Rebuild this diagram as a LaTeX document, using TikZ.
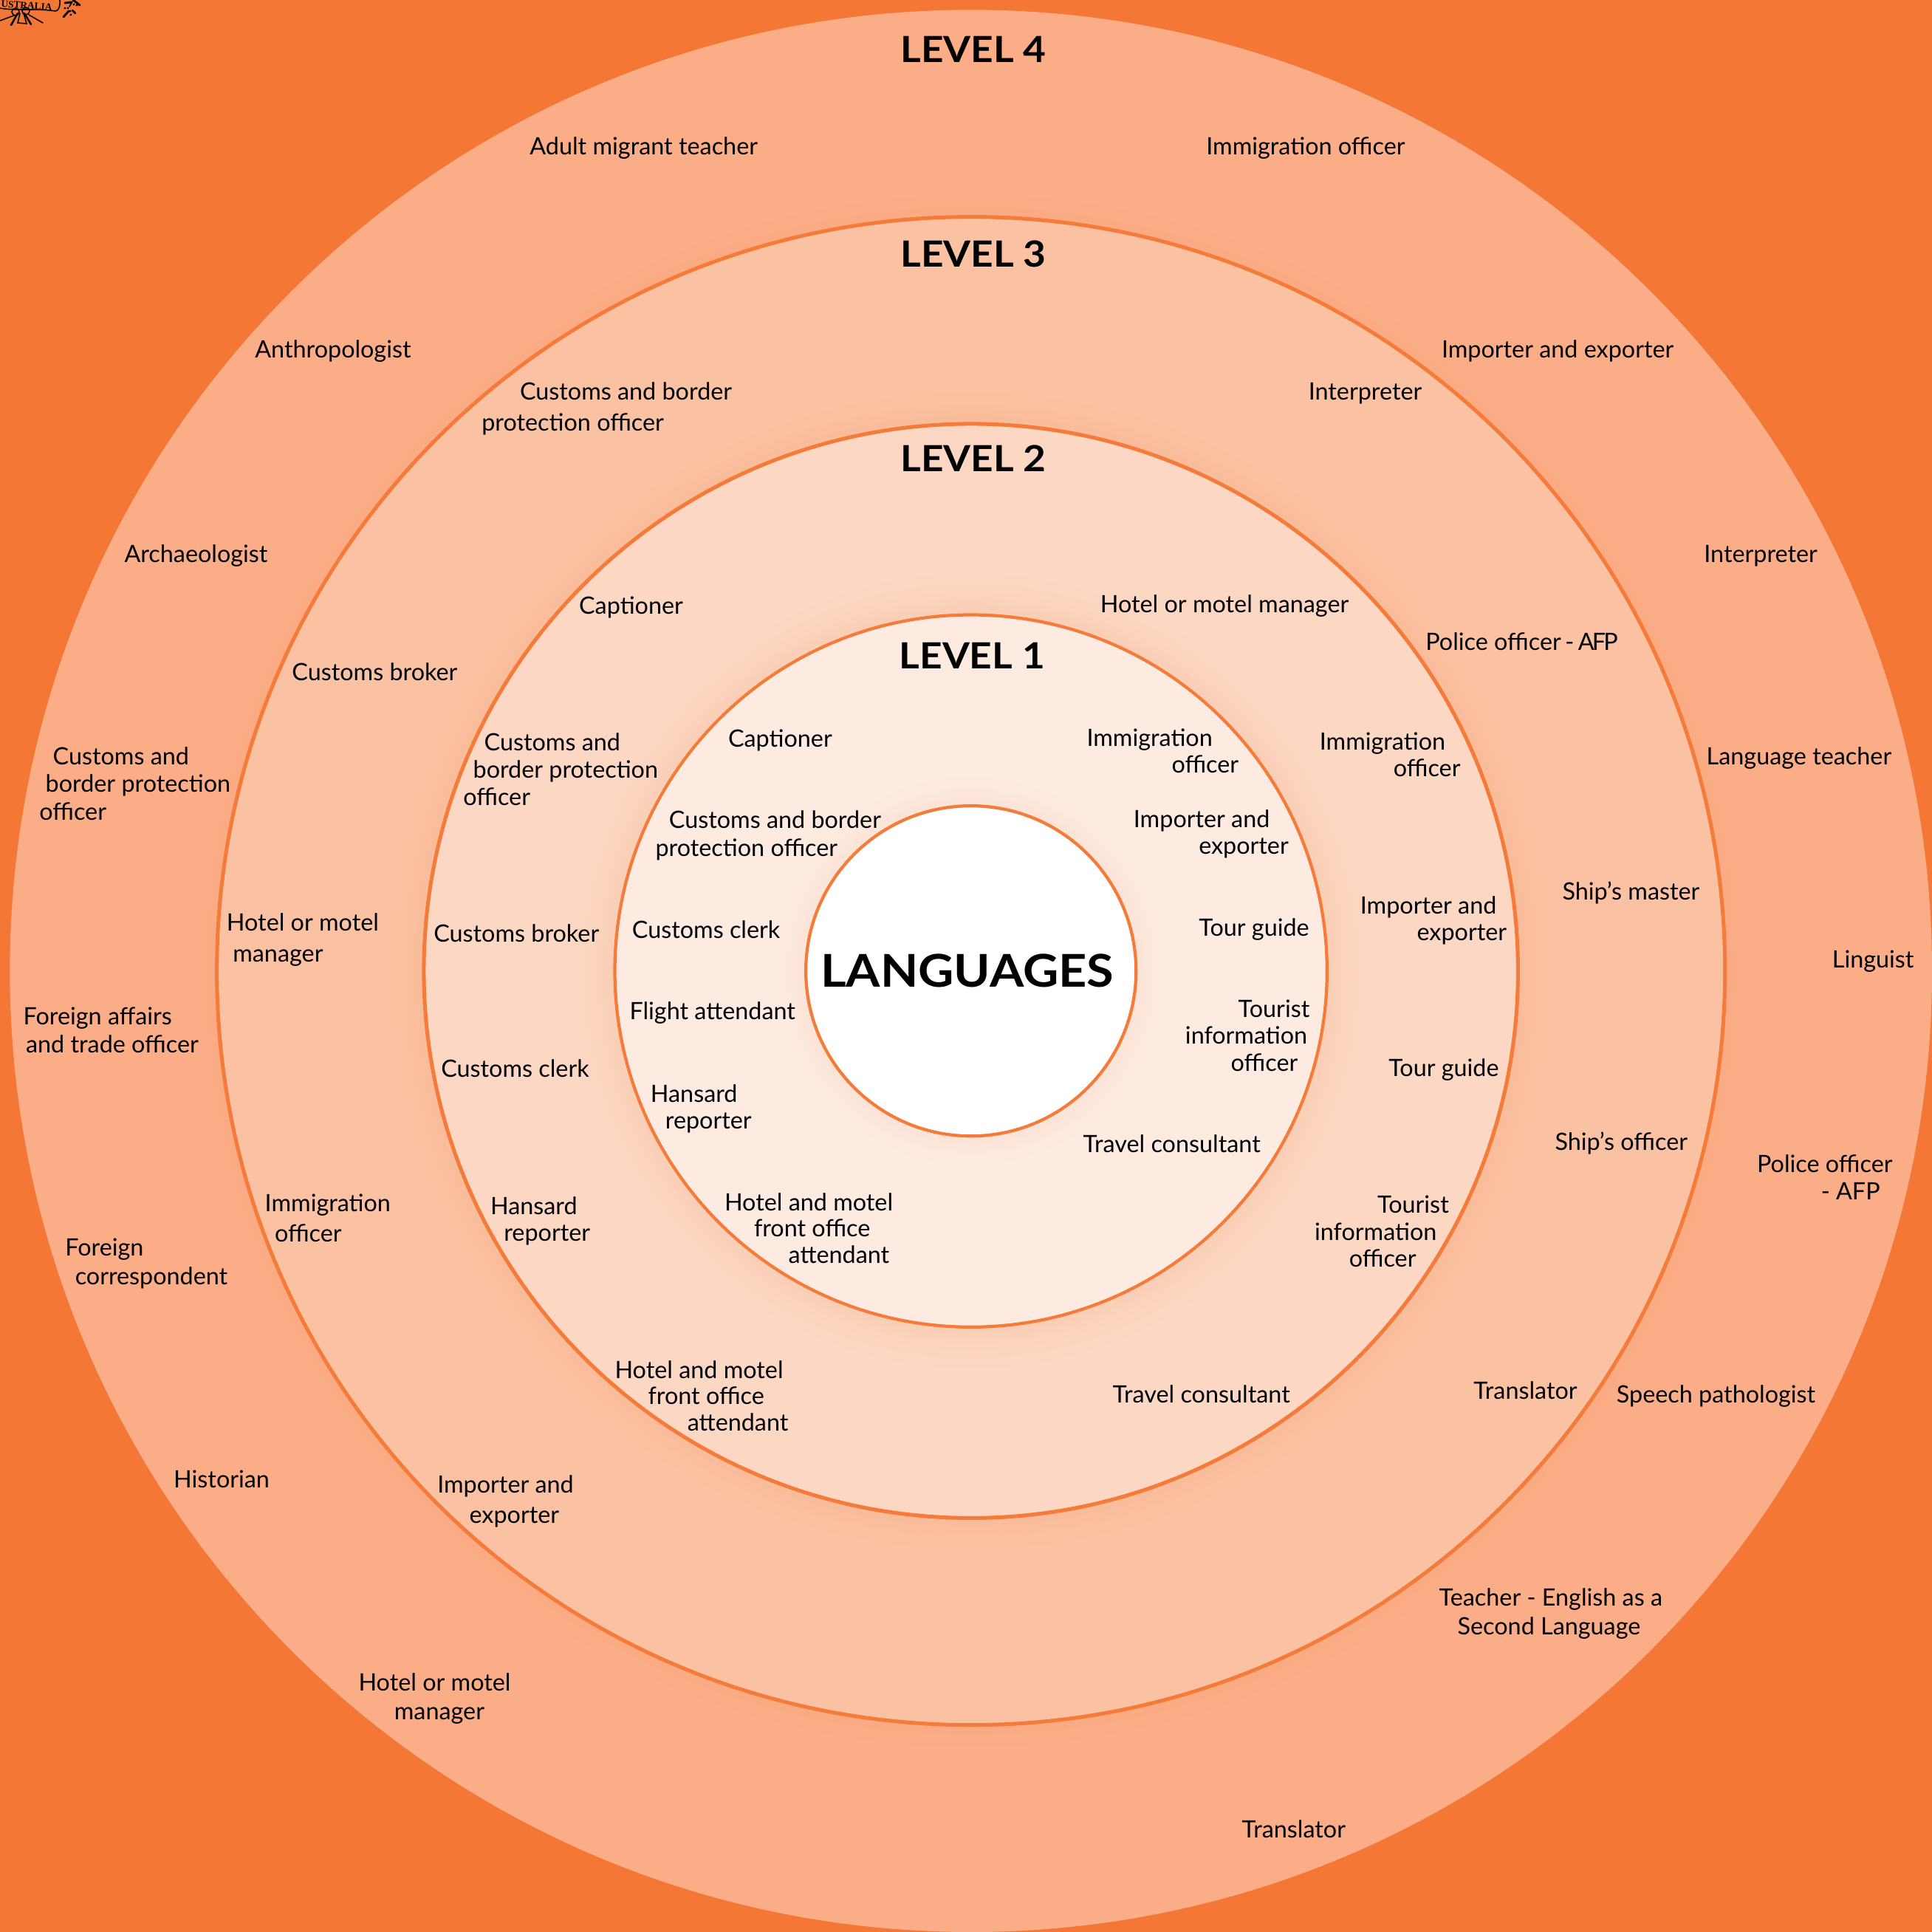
\documentclass[tikz,border=0pt]{standalone}
\usepackage{fontspec}
\setmainfont{Lato}
\newfontfamily\titlefont[FakeStretch=1.09]{Lato}
\newfontfamily\emblemfont{Liberation Serif}
\definecolor{bgorange}{HTML}{F47735}
\definecolor{ringfour}{HTML}{FAAD87}
\definecolor{ringthree}{HTML}{FAC2A3}
\definecolor{ringtwo}{HTML}{FCD7C3}
\definecolor{ringone}{HTML}{FDEBE1}
\definecolor{rimorange}{HTML}{F47B3A}
\newlength{\unitu}\setlength{\unitu}{1.1855pt}
\newcommand{\ind}[1]{\hspace*{#1\unitu}}
% soft halo: opaque concentric discs, fading from the base colour towards orange
% #1 radius, #2 base colour, #3 strength at the rim (percent), #4 reach
\newcommand{\glowring}[4]{%
  \foreach \k in {24,23,...,1}{%
    \pgfmathsetmacro\gp{#3*(1-\k/25)*(1-\k/25)}%
    \pgfmathsetmacro\gr{#1+#4*\k/24}%
    \fill[bgorange!\gp!#2] (788,788) circle (\gr);}}
\newcommand{\lab}[5]{%
  \pgfmathsetmacro\ly{#3+6.5-0.7*#4}%
  \pgfmathsetmacro\lb{#4*1.1855}%
  \node[txt,font=\fontsize{23pt}{\lb pt}\selectfont] (#1) at (#2,\ly) {\strut #5};}
\tikzset{
  txt/.style={anchor=north west,inner sep=0pt,outer sep=0pt,align=left,text=black},
  title/.style={anchor=center,inner sep=0pt,font=\titlefont\fontsize{34.7pt}{40pt}\selectfont\bfseries,text=black},
  disc/.style={draw=rimorange,line width=#1},
  disc/.default=3.6pt,
  emb/.style={draw=black,line width=1.1pt,line cap=round}
}
\begin{document}
\begin{tikzpicture}[x=0.41709mm,y=-0.41709mm]
\useasboundingbox (0,0) rectangle (1568,1568);
\fill[bgorange] (0,0) rectangle (1568,1568);
\fill[ringfour] (788,788) circle (780);
\glowring{612}{ringfour}{5}{30}
\path[disc,fill=ringthree] (788,788) circle (612);
\glowring{444}{ringthree}{9}{40}
\path[disc,fill=ringtwo] (788,788) circle (444);
\glowring{289}{ringtwo}{11}{40}
\path[disc=3pt,fill=ringone] (788,788) circle (289);
\glowring{134}{ringone}{7}{35}
\path[disc=3pt,fill=white] (788,788) circle (134);

% centre and level titles
\node[title,font=\titlefont\fontsize{43.5pt}{48pt}\selectfont\bfseries] (centre) at (785,788) {LANGUAGES};
\node[title] (lfour) at (790,40) {LEVEL 4};
\node[title] (lthree) at (790,206) {LEVEL 3};
\node[title] (ltwo) at (790,372) {LEVEL 2};
\node[title] (lone) at (789,532) {LEVEL 1};

% level 4
\lab{da}{430}{119}{23}{Adult migrant teacher}
\lab{db}{979}{119}{23}{Immigration officer}
\lab{dc}{207}{284}{23}{Anthropologist}
\lab{dd}{1170}{284}{23}{Importer and exporter}
\lab{de}{101}{450}{23}{Archaeologist}
\lab{df}{1383}{450}{23}{Interpreter}
\lab{dg}{32}{614}{22.5}{\ind{11}Customs and\\\ind{5}border protection\\officer}
\lab{dh}{1385}{614}{23}{Language teacher}
\lab{di}{1487}{779}{23}{Linguist}
\lab{dj}{19}{825}{23}{Foreign affairs\\\ind{2}and trade officer}
\lab{dk}{1426}{945}{22.5}{Police officer\\\ind{52}- AFP}
\lab{dl}{53}{1013}{23}{Foreign\\\ind{8}correspondent}
\lab{dm}{1312}{1132}{23}{Speech pathologist}
\lab{dn}{141}{1201}{23}{Historian}
\lab{do}{1168}{1297}{23}{Teacher - English as a\\\ind{15}Second Language}
\lab{dp}{291}{1366}{23}{Hotel or motel\\\ind{29}manager}
\lab{dq}{1008}{1485}{23}{Translator}

% level 3
\lab{ca}{391}{318}{25}{\ind{31}Customs and border\\protection officer}
\lab{cb}{1062}{318}{25}{Interpreter}
\lab{cc}{237}{546}{25}{Customs broker}
\lab{cd}{1157}{521}{25}{Police officer\kern-2pt{} -\kern-2pt{} A\kern-2pt F\kern-2pt P}
\lab{ce}{184}{749}{25}{Hotel or motel\\\ind{5}manager}
\lab{cf}{1268}{724}{25}{Ship’s master}
\lab{cg}{215}{977}{24.5}{Immigration\\\ind{8}officer}
\lab{ch}{1262}{927}{25}{Ship’s officer}
\lab{ci}{355}{1205}{25}{Importer and\\\ind{26}exporter}
\lab{cj}{1196}{1129}{25}{Translator}

% level 2
\lab{ba}{470}{492}{22}{Captioner}
\lab{bb}{893}{491}{22}{Hotel or motel manager}
\lab{bc}{376}{603}{22}{\ind{17}Customs and\\\ind{8}border protection\\officer}
\lab{bd}{1071}{602}{22}{Immigration\\\ind{60}officer}
\lab{be}{352}{758}{22}{Customs broker}
\lab{bf}{1104}{735}{22}{Importer and\\\ind{46}exporter}
\lab{bg}{358}{868}{22}{Customs clerk}
\lab{bh}{1127}{867}{22}{Tour guide}
\lab{bi}{398}{979}{22}{Hansard\\\ind{11}reporter}
\lab{bj}{1067}{978}{22}{\ind{51}Tourist\\information\\\ind{28}officer}
\lab{bk}{499}{1112}{21.5}{Hotel and motel\\\ind{27}front office\\\ind{59}attendant}
\lab{bl}{903}{1132}{22}{Travel consultant}

% level 1
\lab{aa}{591}{600}{22}{Captioner}
\lab{ab}{882}{599}{21.5}{Immigration\\\ind{69}officer}
\lab{ac}{532}{666}{22.5}{\ind{11}Customs and border\\protection officer}
\lab{ad}{920}{665}{22}{Importer and\\\ind{53}exporter}
\lab{ae}{513}{755}{22}{Customs clerk}
\lab{af}{973}{753}{22}{Tour guide}
\lab{ag}{511}{821}{22}{Flight attendant}
\lab{ah}{962}{819}{22}{\ind{43}Tourist\\information\\\ind{37}officer}
\lab{ai}{528}{888}{21.5}{Hansard\\\ind{12}reporter}
\lab{aj}{879}{929}{22}{Travel consultant}
\lab{ak}{588}{976}{21.5}{Hotel and motel\\\ind{24}front office\\\ind{52}attendant}

% crest fragment in the top left corner (drawn in reference pixels)
\begin{scope}[x=0.25mm,y=-0.25mm]
  \clip (0,0) rectangle (130,40);
  \node[anchor=base west,inner sep=0pt,rotate=-4,font=\emblemfont\bfseries\fontsize{9.5pt}{11pt}\selectfont] (crest) at (1,9.5) {USTRALIA};
  \draw[emb] (0,11) .. controls (20,15) and (50,11) .. (75,15) .. controls (80,15) and (82,6) .. (81,0);
  \draw[emb] (21,16) circle (5);
  \draw[emb] (35,15) circle (5);
  \draw[emb,line width=1.8pt] (24,18) -- (15,34);
  \draw[emb,line width=1.8pt] (33,18) -- (42,33);
  \draw[emb] (19,21) -- (0,28);
  \draw[emb] (39,20) -- (58,31);
  \draw[emb] (27,18) -- (24,31) -- (36,32) -- (32,18);
  \draw[emb,line width=2pt] (88,4) -- (96,3);
  \draw[emb,line width=2pt] (99,0) -- (108,7);
  \draw[emb,line width=2pt] (86,23) -- (93,15);
  \draw[emb,line width=2pt] (98,14) -- (102,18);
  \draw[emb,line width=1.2pt] (94,9) -- (98,2);
  \foreach \p in {(88,11),(92,11),(100,6),(104,7),(95,15),(96,20)}
    \fill \p circle (1.6);
\end{scope}
\end{tikzpicture}
\end{document}
